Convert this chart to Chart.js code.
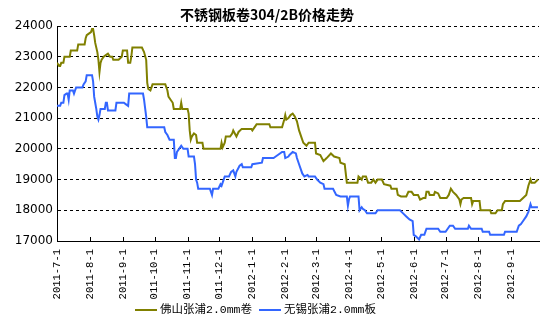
<!DOCTYPE html>
<html><head><meta charset="utf-8">
<script src="https://cdn.jsdelivr.net/npm/chart.js@4/dist/chart.umd.min.js"></script>
<style>html,body{margin:0;padding:0;background:#fff}</style>
</head><body>
<canvas id="c" width="553" height="334" style="width:553px;height:334px;display:block"></canvas>
<script>
const chartTitle = '不锈钢板卷304/2B价格走势';
const seriesNames = ['佛山张浦2.0mm卷', '无锡张浦2.0mm板'];
const seriesColors = ['#808000', '#3366ff'];

const tickDates = ['2011-07-01','2011-08-01','2011-09-01','2011-10-01','2011-11-01','2011-12-01','2012-01-01','2012-02-01','2012-03-01','2012-04-01','2012-05-01','2012-06-01','2012-07-01','2012-08-01','2012-09-01'];
const tickLabels = ['2011-7-1','2011-8-1','2011-9-1','011-10-1','011-11-1','011-12-1','2012-1-1','2012-2-1','2012-3-1','2012-4-1','2012-5-1','2012-6-1','2012-7-1','2012-8-1','2012-9-1'];
const axisStart = '2011-07-01';
const axisEnd = '2012-09-27';
const yMin = 17000, yMax = 24000, yStep = 500;

const foshanDates = ['2011-07-01','2011-07-03','2011-07-04','2011-07-05','2011-07-07','2011-07-08','2011-07-13','2011-07-14','2011-07-20','2011-07-21','2011-07-27','2011-07-28','2011-07-29','2011-07-31','2011-08-02','2011-08-03','2011-08-04','2011-08-05','2011-08-06','2011-08-08','2011-08-09','2011-08-10','2011-08-11','2011-08-12','2011-08-14','2011-08-16','2011-08-18','2011-08-20','2011-08-22','2011-08-23','2011-08-28','2011-08-31','2011-09-01','2011-09-05','2011-09-06','2011-09-08','2011-09-09','2011-09-10','2011-09-19','2011-09-21','2011-09-23','2011-09-24','2011-09-25','2011-09-27','2011-09-28','2011-09-29','2011-10-11','2011-10-13','2011-10-14','2011-10-16','2011-10-18','2011-10-19','2011-10-25','2011-10-26','2011-10-27','2011-11-01','2011-11-02','2011-11-03','2011-11-04','2011-11-05','2011-11-07','2011-11-09','2011-11-10','2011-11-15','2011-11-16','2011-12-02','2011-12-03','2011-12-04','2011-12-06','2011-12-07','2011-12-11','2011-12-13','2011-12-14','2011-12-17','2011-12-19','2011-12-22','2011-12-31','2012-01-01','2012-01-04','2012-01-05','2012-01-17','2012-01-18','2012-01-29','2012-01-31','2012-02-01','2012-02-02','2012-02-04','2012-02-06','2012-02-08','2012-02-10','2012-02-12','2012-02-14','2012-02-16','2012-02-18','2012-02-21','2012-02-23','2012-02-29','2012-03-01','2012-03-05','2012-03-08','2012-03-11','2012-03-15','2012-03-18','2012-03-23','2012-03-24','2012-03-28','2012-03-30','2012-04-09','2012-04-10','2012-04-13','2012-04-14','2012-04-17','2012-04-19','2012-04-22','2012-04-24','2012-04-26','2012-04-28','2012-05-02','2012-05-04','2012-05-10','2012-05-11','2012-05-16','2012-05-17','2012-05-20','2012-05-25','2012-05-27','2012-05-30','2012-06-01','2012-06-05','2012-06-07','2012-06-10','2012-06-12','2012-06-13','2012-06-15','2012-06-16','2012-06-20','2012-06-21','2012-06-24','2012-06-26','2012-07-02','2012-07-04','2012-07-06','2012-07-08','2012-07-11','2012-07-14','2012-07-15','2012-07-16','2012-07-18','2012-07-25','2012-07-26','2012-07-27','2012-07-29','2012-08-02','2012-08-03','2012-08-12','2012-08-13','2012-08-17','2012-08-19','2012-08-23','2012-08-24','2012-08-26','2012-09-09','2012-09-12','2012-09-15','2012-09-17','2012-09-19','2012-09-20','2012-09-23','2012-09-26'];
const foshanPrices = [22800,22700,22700,22800,22800,23000,23000,23200,23200,23400,23400,23600,23700,23750,23800,23900,23900,23700,23450,23150,22900,22500,22800,22900,23000,23050,23100,23000,23000,22900,22900,23000,23200,23200,22800,22800,23000,23300,23300,23150,22900,22150,21950,21900,22000,22100,22100,21900,21700,21600,21500,21300,21300,21500,21300,21300,21150,20600,20300,20400,20500,20450,20200,20200,20000,20000,20200,20050,20200,20400,20400,20500,20600,20400,20550,20650,20650,20600,20750,20800,20800,20700,20700,20950,21100,20950,21000,21100,21150,21050,20900,20600,20400,20200,20100,20200,20200,19850,19800,19600,19700,19850,19750,19700,19550,19500,18900,18900,19100,19000,19100,19100,18900,18900,19000,18900,19000,19000,18850,18800,18700,18700,18500,18450,18450,18600,18600,18500,18500,18350,18400,18400,18600,18600,18500,18500,18600,18550,18400,18400,18500,18700,18600,18500,18350,18200,18350,18400,18400,18200,18300,18300,18300,18000,18000,17900,17900,18000,18000,18200,18300,18300,18400,18500,18800,19000,18900,18900,19000];

const wuxiDates = ['2011-07-01','2011-07-04','2011-07-05','2011-07-07','2011-07-08','2011-07-10','2011-07-11','2011-07-12','2011-07-13','2011-07-16','2011-07-17','2011-07-19','2011-07-25','2011-07-26','2011-07-28','2011-07-29','2011-08-03','2011-08-04','2011-08-05','2011-08-06','2011-08-07','2011-08-08','2011-08-09','2011-08-10','2011-08-11','2011-08-15','2011-08-16','2011-08-17','2011-08-18','2011-08-25','2011-08-26','2011-09-02','2011-09-04','2011-09-06','2011-09-07','2011-09-20','2011-09-21','2011-09-23','2011-09-24','2011-10-10','2011-10-11','2011-10-13','2011-10-15','2011-10-19','2011-10-20','2011-10-21','2011-10-22','2011-10-24','2011-10-26','2011-10-28','2011-11-01','2011-11-02','2011-11-07','2011-11-08','2011-11-09','2011-11-10','2011-11-11','2011-11-22','2011-11-23','2011-11-24','2011-11-25','2011-11-30','2011-12-02','2011-12-03','2011-12-05','2011-12-06','2011-12-10','2011-12-12','2011-12-14','2011-12-16','2011-12-17','2011-12-20','2011-12-22','2011-12-23','2011-12-31','2012-01-01','2012-01-10','2012-01-11','2012-01-21','2012-01-23','2012-01-25','2012-01-29','2012-01-31','2012-02-01','2012-02-04','2012-02-05','2012-02-08','2012-02-11','2012-02-12','2012-02-14','2012-02-16','2012-02-17','2012-02-19','2012-02-22','2012-02-23','2012-02-29','2012-03-02','2012-03-05','2012-03-08','2012-03-09','2012-03-17','2012-03-20','2012-03-24','2012-03-30','2012-03-31','2012-04-01','2012-04-02','2012-04-10','2012-04-11','2012-04-13','2012-04-14','2012-04-16','2012-04-18','2012-04-26','2012-04-28','2012-05-19','2012-05-22','2012-05-25','2012-05-28','2012-05-31','2012-06-01','2012-06-03','2012-06-06','2012-06-08','2012-06-11','2012-06-13','2012-06-24','2012-06-26','2012-07-01','2012-07-03','2012-07-05','2012-07-08','2012-07-10','2012-07-22','2012-07-23','2012-07-25','2012-08-04','2012-08-05','2012-08-11','2012-08-12','2012-08-25','2012-08-26','2012-09-06','2012-09-08','2012-09-10','2012-09-12','2012-09-15','2012-09-17','2012-09-19','2012-09-20','2012-09-26'];
const wuxiPrices = [21400,21400,21500,21500,21750,21800,21800,21600,21900,21900,21800,22000,22000,22100,22200,22400,22400,22200,21700,21500,21300,21050,20950,21100,21300,21300,21500,21500,21250,21250,21500,21500,21450,21400,21800,21800,21600,21050,20700,20700,20550,20450,20300,20300,19700,19700,19900,20000,20100,20000,20000,19750,19750,19500,19000,18900,18700,18700,18600,18500,18700,18700,18850,18800,19000,19100,19100,19250,19300,19100,19250,19450,19500,19400,19400,19500,19550,19700,19700,19750,19800,19900,19900,19700,19750,19800,19900,19850,19700,19500,19300,19200,19100,19150,19100,19100,19000,18900,18850,18700,18700,18500,18450,18450,18150,18350,18450,18450,18000,18100,18050,18000,17900,17900,18000,18000,17900,17800,17700,17650,17200,17150,17050,17200,17200,17400,17400,17300,17300,17400,17500,17500,17400,17400,17500,17400,17400,17300,17300,17200,17200,17300,17300,17500,17550,17650,17800,17950,18200,18100,18100];

const DAY_MS = 86400000;
const t0 = Date.UTC(2011, 6, 1);
function dayOf(s) { const p = s.split('-').map(Number); return (Date.UTC(p[0], p[1] - 1, p[2]) - t0) / DAY_MS; }
function toPoints(dates, vals) { return dates.map((d, i) => ({ x: dayOf(d), y: vals[i] })); }

const titlePlugin = {
  id: 'titleDraw',
  afterDraw(chart) {
    const c = chart.ctx; c.save();
    c.font = 'bold 14px "Noto Sans CJK SC"'; c.fillStyle = '#000';
    c.textAlign = 'center'; c.textBaseline = 'middle';
    c.fillText(chartTitle, 267, 15);
    c.restore();
  }
};
const innerTicks = {
  id: 'innerTicks',
  afterDraw(chart) {
    const s = chart.scales.x, c = chart.ctx; c.save();
    c.strokeStyle = '#000'; c.lineWidth = 1; c.beginPath();
    s.ticks.forEach(t => { const px = Math.round(s.getPixelForValue(t.value)) + 0.5; c.moveTo(px, s.top); c.lineTo(px, s.top - 4); });
    c.stroke(); c.restore();
  }
};
const legendPlugin = {
  id: 'legendDraw',
  afterDraw(chart) {
    const c = chart.ctx; c.save();
    c.font = '11.5px "Liberation Mono", "Noto Sans CJK SC"';
    c.textBaseline = 'middle'; c.textAlign = 'left';
    let x = 135; const y = 310;
    chart.data.datasets.forEach(ds => {
      c.strokeStyle = ds.borderColor; c.lineWidth = 2;
      c.beginPath(); c.moveTo(x, y); c.lineTo(x + 22, y); c.stroke();
      c.fillStyle = '#000'; c.fillText(ds.label, x + 25, y);
      x += 25 + c.measureText(ds.label).width + 7;
    });
    c.restore();
  }
};

new Chart(document.getElementById('c'), {
  type: 'line',
  data: {
    datasets: [
      { label: seriesNames[0], data: toPoints(foshanDates, foshanPrices), borderColor: seriesColors[0], backgroundColor: seriesColors[0], borderWidth: 2, pointRadius: 0, tension: 0, fill: false },
      { label: seriesNames[1], data: toPoints(wuxiDates, wuxiPrices), borderColor: seriesColors[1], backgroundColor: seriesColors[1], borderWidth: 2, pointRadius: 0, tension: 0, fill: false }
    ]
  },
  options: {
    responsive: false, animation: false, devicePixelRatio: 1,
    layout: { padding: { top: 26, right: 14, left: 0, bottom: 0 } },
    plugins: { legend: { display: false }, title: { display: false }, tooltip: { enabled: false } },
    scales: {
      x: {
        type: 'linear', min: dayOf(axisStart), max: dayOf(axisEnd),
        afterBuildTicks: s => { s.ticks = tickDates.map(d => ({ value: dayOf(d) })); },
        ticks: {
          autoSkip: false, maxRotation: 90, minRotation: 90, padding: 8, color: '#000',
          font: { family: 'Liberation Mono', size: 10.5 },
          callback: v => { const i = tickDates.findIndex(d => dayOf(d) === v); return i >= 0 ? tickLabels[i] : ''; }
        },
        grid: { display: false, drawTicks: false },
        border: { display: true, color: '#000', width: 1 },
        afterFit: s => { s.height = 93; }
      },
      y: {
        min: yMin, max: yMax,
        ticks: { stepSize: yStep, color: '#000', padding: 4, font: { family: 'DejaVu Sans', size: 12 }, callback: v => String(v) },
        grid: { color: '#000', lineWidth: 1, drawTicks: false },
        border: { display: true, color: '#000', width: 1, dash: [3, 3] },
        afterFit: s => { s.width = 57; }
      }
    }
  },
  plugins: [titlePlugin, innerTicks, legendPlugin]
});
</script>
</body></html>
